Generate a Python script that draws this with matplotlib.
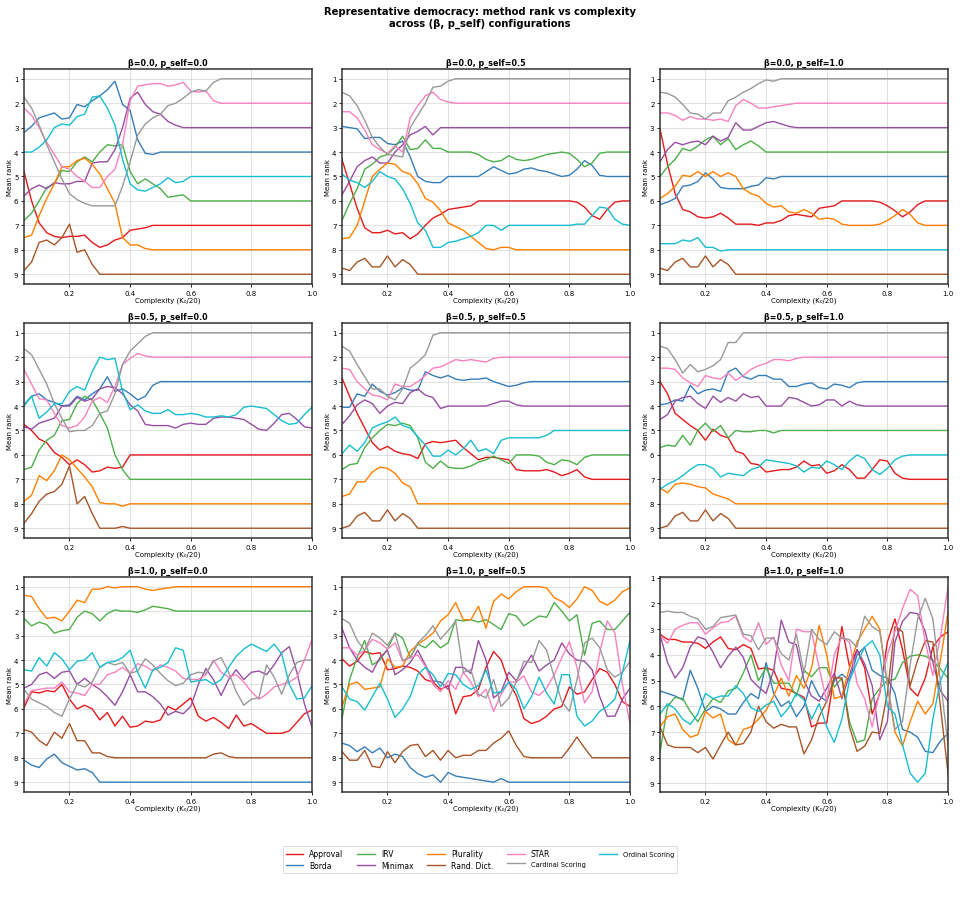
import matplotlib
matplotlib.use("Agg")
import matplotlib.pyplot as plt
import numpy as np

methods = ['Approval', 'Borda', 'IRV', 'Minimax', 'Plurality', 'Rand. Dict.',
           'STAR', 'Cardinal Scoring', 'Ordinal Scoring']
colors = ['#e41a1c', '#377eb8', '#4daf4a', '#984ea3', '#ff7f00', '#a65628',
          '#f781bf', '#999999', '#17becf']

# complexity grid, K0/20 from 0.05 to 1.0 in steps of 0.025 (39 points)
complexity = np.linspace(0.05, 1.0, 39)

betas = [0.0, 0.5, 1.0]
p_selfs = [0.0, 0.5, 1.0]

# mean rank per method, in the order of `methods`
rank_b00_p00 = [
    [4.8, 6.0, 6.9, 7.3, 7.45, 7.5, 7.45, 7.45, 7.4, 7.7, 7.9, 7.8, 7.6, 7.5, 7.2, 7.15, 7.1, 7.0, 7.0] + [7.0] * 20,
    [3.2, 2.95, 2.6, 2.5, 2.4, 2.65, 2.6, 2.05, 2.15, 1.9, 1.7, 1.45, 1.1, 2.05, 2.3, 3.5, 4.05, 4.1, 4.0] + [4.0] * 20,
    [6.8, 6.5, 6.0, 5.45, 5.3, 4.75, 4.8, 4.4, 4.2, 4.4, 4.0, 3.7, 3.75, 3.7, 4.8, 5.3, 5.1, 5.3, 5.5, 5.85, 5.8, 5.75, 6.0] + [6.0] * 16,
    [5.8, 5.5, 5.35, 5.5, 5.25, 5.3, 5.3, 5.2, 5.2, 4.45, 4.4, 4.4, 3.9, 3.0, 1.8, 1.55, 2.05, 2.35, 2.45, 2.75, 2.9, 3.0] + [3.0] * 17,
    [7.5, 7.4, 6.6, 5.9, 5.3, 4.6, 4.6, 4.35, 4.25, 4.5, 4.9, 5.5, 6.1, 7.5, 7.8, 7.8, 7.95, 8.0] + [8.0] * 21,
    [8.85, 8.5, 7.7, 7.6, 7.8, 7.5, 6.95, 8.1, 8.0, 8.6, 9.0] + [9.0] * 28,
    [2.2, 2.5, 3.0, 3.6, 4.1, 4.6, 4.7, 5.0, 5.2, 5.45, 5.45, 5.0, 4.7, 3.7, 1.9, 1.3, 1.25, 1.2, 1.2, 1.3, 1.25, 1.15, 1.5, 1.55, 1.5, 1.9, 2.0] + [2.0] * 12,
    [1.75, 2.2, 2.9, 3.7, 4.4, 5.1, 5.7, 5.95, 6.1, 6.2, 6.2, 6.2, 6.2, 5.4, 4.4, 3.3, 2.85, 2.6, 2.45, 2.1, 2.0, 1.8, 1.55, 1.45, 1.5, 1.15, 1.0] + [1.0] * 12,
    [4.0, 4.0, 3.8, 3.5, 3.0, 2.85, 2.9, 2.55, 2.45, 1.75, 1.7, 2.2, 2.9, 4.3, 5.3, 5.55, 5.6, 5.45, 5.3, 5.05, 5.25, 5.2, 5.0] + [5.0] * 16,
]

rank_b00_p05 = [
    [4.3, 5.3, 6.3, 7.1, 7.3, 7.3, 7.2, 7.35, 7.3, 7.55, 7.35, 7.0, 6.7, 6.55, 6.35, 6.3, 6.25, 6.2] + [6.0] * 13
    + [6.05, 6.25, 6.6, 6.75, 6.35, 6.05, 6.0, 6.0],
    [2.95, 3.0, 3.05, 3.45, 3.4, 3.4, 3.65, 3.7, 3.55, 4.2, 5.0, 5.2, 5.25, 5.25, 5.0, 5.0, 5.0, 5.0, 5.0, 4.8,
     4.6, 4.75, 4.9, 4.85, 4.7, 4.65, 4.75, 4.8, 4.9, 5.0, 4.95, 4.7, 4.35, 4.55, 4.95, 5.0, 5.0, 5.0, 5.0],
    [6.8, 6.1, 5.5, 4.7, 4.5, 4.2, 4.1, 3.8, 3.35, 3.9, 3.85, 3.5, 3.85, 3.85, 4.0, 4.0, 4.0, 4.0, 4.1, 4.3,
     4.4, 4.35, 4.15, 4.3, 4.35, 4.3, 4.2, 4.1, 4.05, 4.0, 4.05, 4.3, 4.6, 4.45, 4.05, 4.0, 4.0, 4.0, 4.0],
    [5.75, 5.2, 4.6, 4.35, 4.2, 4.45, 4.45, 4.0, 3.7, 3.3, 3.15, 2.95, 3.3, 3.0, 3.0] + [3.0] * 24,
    [7.55, 7.5, 7.0, 6.0, 5.0, 4.7, 4.45, 4.5, 4.8, 4.9, 5.3, 5.9, 6.05, 6.4, 6.9, 7.05, 7.2, 7.45, 7.7, 7.95,
     8.0, 7.9, 7.9, 8.0] + [8.0] * 15,
    [8.75, 8.85, 8.5, 8.35, 8.7, 8.7, 8.25, 8.7, 8.4, 8.6, 9.0] + [9.0] * 28,
    [2.35, 2.35, 2.6, 3.1, 3.7, 3.9, 4.05, 3.75, 4.0, 2.6, 2.1, 1.7, 1.55, 1.85, 1.95, 2.0] + [2.0] * 23,
    [1.55, 1.7, 2.1, 2.7, 3.4, 3.8, 4.1, 4.15, 4.2, 3.0, 2.5, 2.0, 1.35, 1.3, 1.1, 1.0] + [1.0] * 23,
    [4.9, 5.15, 5.25, 5.45, 5.2, 4.8, 5.0, 5.1, 5.5, 6.1, 6.9, 7.2, 7.9, 7.9, 7.7, 7.65, 7.55, 7.45, 7.3, 7.0,
     7.0, 7.2, 7.0, 7.0, 7.0, 7.0, 7.0, 7.0, 7.0, 7.0, 7.0, 6.95, 6.95, 6.6, 6.25, 6.3, 6.75, 6.95, 7.0],
]

rank_b00_p10 = [
    [3.05, 4.5, 5.7, 6.35, 6.45, 6.65, 6.7, 6.65, 6.5, 6.7, 6.95, 6.95, 6.95, 7.0, 6.9, 6.9, 6.8, 6.6, 6.55, 6.6,
     6.65, 6.3, 6.25, 6.2, 6.0, 6.0, 6.0, 6.0, 6.0, 6.05, 6.2, 6.4, 6.65, 6.45, 6.15, 6.0, 6.0, 6.0, 6.0],
    [6.15, 6.05, 5.9, 5.4, 5.35, 5.2, 4.85, 5.1, 5.45, 5.5, 5.5, 5.5, 5.4, 5.35, 5.05, 5.1, 5.0] + [5.0] * 22,
    [5.0, 4.6, 4.3, 3.85, 3.95, 3.75, 3.5, 3.35, 3.7, 3.45, 3.9, 3.7, 3.55, 3.75, 4.0] + [4.0] * 24,
    [4.4, 3.9, 3.6, 3.7, 3.6, 3.55, 3.7, 3.35, 3.55, 3.4, 2.8, 3.1, 3.1, 2.95, 2.8, 2.75, 2.85, 2.95, 3.0] + [3.0] * 20,
    [5.9, 5.7, 5.4, 4.95, 5.0, 4.8, 5.0, 4.8, 5.0, 4.85, 5.0, 5.5, 5.7, 5.8, 6.1, 6.25, 6.2, 6.45, 6.5, 6.35,
     6.5, 6.75, 6.7, 6.75, 6.95, 7.0, 7.0, 7.0, 7.0, 6.95, 6.8, 6.6, 6.35, 6.55, 6.9, 7.0, 7.0, 7.0, 7.0],
    [8.75, 8.85, 8.5, 8.35, 8.7, 8.7, 8.25, 8.7, 8.4, 8.6, 9.0] + [9.0] * 28,
    [2.4, 2.4, 2.5, 2.7, 2.55, 2.65, 2.65, 2.7, 2.65, 2.75, 2.1, 1.85, 2.0, 2.2, 2.2, 2.15, 2.1, 2.05, 2.0] + [2.0] * 20,
    [1.55, 1.6, 1.75, 2.05, 2.4, 2.45, 2.65, 2.4, 2.4, 1.9, 1.75, 1.55, 1.4, 1.2, 1.05, 1.1, 1.0] + [1.0] * 22,
    [7.75, 7.75, 7.75, 7.6, 7.65, 7.5, 7.9, 7.9, 8.05, 8.0] + [8.0] * 29,
]

rank_b05_p00 = [
    [4.75, 5.0, 5.35, 5.5, 5.9, 6.1, 6.4, 6.2, 6.4, 6.7, 6.65, 6.5, 6.55, 6.5, 6.0] + [6.0] * 24,
    [3.95, 3.6, 3.5, 3.75, 3.85, 4.0, 3.95, 3.6, 3.75, 3.5, 3.3, 2.8, 3.4, 3.3, 3.5, 3.75, 3.6, 3.15, 3.0] + [3.0] * 20,
    [6.6, 6.5, 5.8, 5.4, 5.2, 4.6, 4.55, 3.9, 3.6, 3.75, 4.3, 4.9, 6.0, 6.6, 7.0] + [7.0] * 24,
    [4.85, 4.95, 4.7, 4.6, 4.5, 4.0, 4.0, 3.65, 3.8, 3.7, 3.3, 3.2, 3.25, 3.5, 3.95, 4.2, 4.75, 4.8, 4.8, 4.8,
     4.9, 4.75, 4.7, 4.75, 4.75, 4.5, 4.45, 4.45, 4.5, 4.55, 4.75, 4.95, 5.0, 4.7, 4.35, 4.3, 4.55, 4.85, 4.9],
    [7.9, 7.65, 6.85, 7.05, 6.65, 6.0, 6.2, 6.55, 6.9, 7.3, 7.95, 8.0, 8.0, 8.1, 8.0] + [8.0] * 24,
    [8.8, 8.4, 7.9, 7.6, 7.5, 7.2, 6.45, 8.0, 7.7, 8.4, 9.0, 9.0, 9.0, 8.93, 9.0] + [9.0] * 24,
    [2.5, 3.1, 3.7, 3.75, 4.3, 4.8, 4.9, 4.8, 4.45, 3.8, 3.65, 3.85, 3.2, 2.3, 2.05, 1.85, 1.95, 2.0] + [2.0] * 21,
    [1.65, 1.9, 2.5, 3.1, 3.9, 4.5, 5.05, 5.0, 5.0, 4.8, 4.3, 4.2, 3.5, 2.3, 1.75, 1.45, 1.15, 1.0] + [1.0] * 21,
    [4.0, 3.6, 4.5, 4.25, 3.9, 3.9, 3.4, 3.2, 3.35, 2.6, 2.0, 2.1, 2.05, 3.4, 4.15, 3.95, 4.2, 4.3, 4.3, 4.15,
     4.35, 4.35, 4.3, 4.35, 4.45, 4.45, 4.4, 4.45, 4.35, 4.05, 4.0, 4.05, 4.1, 4.35, 4.6, 4.75, 4.7, 4.35, 4.05],
]

rank_b05_p05 = [
    [2.85, 3.6, 4.3, 4.9, 5.5, 5.8, 5.65, 5.85, 5.95, 6.0, 6.15, 5.55, 5.45, 5.5, 5.45, 5.4, 5.7, 5.95, 6.2, 6.1,
     6.1, 6.15, 6.2, 6.6, 6.65, 6.65, 6.65, 6.6, 6.7, 6.85, 6.75, 6.6, 6.9, 7.0] + [7.0] * 5,
    [4.05, 4.05, 3.5, 3.6, 3.1, 3.4, 3.55, 3.45, 3.25, 3.35, 3.35, 2.6, 2.75, 2.85, 2.75, 2.9, 2.95, 2.9, 2.9, 2.85,
     3.0, 3.1, 3.2, 3.15, 3.05, 3.0] + [3.0] * 13,
    [6.6, 6.4, 6.35, 5.7, 5.3, 5.0, 4.75, 4.8, 4.7, 4.8, 5.3, 6.3, 6.55, 6.25, 6.5, 6.55, 6.55, 6.45, 6.3, 6.2,
     6.05, 6.2, 6.35, 6.0, 6.0, 6.0, 6.05, 6.3, 6.4, 6.2, 6.25, 6.4, 6.1, 6.0] + [6.0] * 5,
    [4.75, 4.4, 3.95, 3.75, 3.9, 4.3, 4.0, 3.85, 3.9, 3.45, 3.3, 3.55, 3.65, 4.1, 4.0, 4.0, 4.0, 4.0, 4.0, 4.0,
     3.9, 3.8, 3.8, 3.95, 4.0] + [4.0] * 14,
    [7.7, 7.6, 7.1, 7.1, 6.7, 6.5, 6.55, 6.75, 7.15, 7.3, 8.0] + [8.0] * 28,
    [9.0, 8.9, 8.5, 8.35, 8.7, 8.7, 8.25, 8.7, 8.4, 8.6, 9.0] + [9.0] * 28,
    [2.45, 2.5, 3.0, 3.3, 3.55, 3.6, 3.75, 3.1, 3.2, 3.2, 3.0, 2.75, 2.45, 2.4, 2.25, 2.1, 2.15, 2.1, 2.15, 2.2,
     2.05, 2.0] + [2.0] * 17,
    [1.55, 1.75, 2.3, 2.8, 3.3, 3.3, 3.6, 3.75, 3.3, 2.45, 2.2, 1.9, 1.1, 1.0] + [1.0] * 25,
    [5.95, 5.6, 5.85, 5.5, 4.9, 4.75, 4.65, 4.45, 4.8, 4.9, 5.25, 5.6, 6.05, 6.05, 5.8, 6.0, 5.75, 5.4, 5.85, 5.75,
     5.95, 5.4, 5.3, 5.3, 5.3, 5.3, 5.3, 5.2, 5.0] + [5.0] * 10,
]

rank_b05_p10 = [
    [3.0, 3.5, 4.3, 4.55, 4.8, 5.0, 5.4, 4.95, 5.2, 5.3, 5.85, 5.95, 6.35, 6.4, 6.7, 6.65, 6.6, 6.6, 6.5, 6.25,
     6.45, 6.4, 6.75, 6.65, 6.4, 6.6, 6.95, 6.95, 6.6, 6.2, 6.25, 6.75, 6.95, 7.0] + [7.0] * 5,
    [3.95, 3.9, 3.75, 3.8, 3.15, 3.5, 3.35, 3.3, 3.4, 2.6, 2.45, 2.8, 2.9, 2.75, 2.75, 2.9, 2.9, 3.2, 3.2, 3.1,
     3.05, 3.25, 3.3, 3.1, 3.15, 3.25, 3.05, 3.0] + [3.0] * 11,
    [5.7, 5.6, 5.65, 5.2, 5.6, 5.0, 4.7, 5.05, 4.8, 5.3, 5.0, 5.05, 5.05, 5.0, 5.0, 5.1, 5.0] + [5.0] * 22,
    [4.55, 4.35, 3.8, 3.65, 3.6, 3.9, 4.1, 3.6, 3.85, 3.65, 3.8, 3.5, 3.65, 3.6, 4.0, 4.0, 4.0, 3.65, 3.7, 3.85,
     4.0, 3.95, 3.75, 3.75, 4.0, 3.8, 3.95, 4.0] + [4.0] * 11,
    [7.35, 7.55, 7.2, 7.15, 7.2, 7.3, 7.35, 7.6, 7.7, 7.8, 8.0] + [8.0] * 28,
    [9.0, 8.9, 8.5, 8.35, 8.7, 8.7, 8.25, 8.7, 8.4, 8.6, 9.0] + [9.0] * 28,
    [2.45, 2.45, 2.5, 2.85, 3.05, 3.2, 2.75, 2.85, 2.9, 2.65, 2.95, 2.75, 2.5, 2.35, 2.25, 2.1, 2.1, 2.15, 2.05, 2.0] + [2.0] * 19,
    [1.55, 1.65, 2.1, 2.65, 2.3, 2.6, 2.5, 2.35, 2.1, 1.4, 1.4, 1.0] + [1.0] * 27,
    [7.4, 7.2, 7.05, 6.85, 6.6, 6.4, 6.4, 6.55, 6.9, 6.75, 6.8, 6.85, 6.6, 6.5, 6.2, 6.25, 6.3, 6.35, 6.45, 6.7,
     6.5, 6.55, 6.25, 6.4, 6.6, 6.25, 6.0, 6.15, 6.6, 6.8, 6.55, 6.2, 6.05, 6.0] + [6.0] * 5,
]

rank_b10_p00 = [
    [5.95, 5.3, 5.35, 5.25, 5.3, 5.0, 5.6, 6.0, 5.85, 6.0, 6.45, 6.15, 6.7, 6.3, 6.75, 6.7, 6.5, 6.55, 6.45, 5.9,
     6.05, 5.8, 5.55, 6.3, 6.5, 6.35, 6.55, 6.8, 6.25, 6.7, 6.6, 6.8, 7.0, 7.0, 7.0, 6.9, 6.55, 6.2, 6.05],
    [8.1, 8.3, 8.4, 8.05, 7.85, 8.2, 8.35, 8.5, 8.45, 8.6, 9.0] + [9.0] * 28,
    [2.3, 2.6, 2.45, 2.55, 2.9, 2.8, 2.75, 2.25, 2.0, 2.1, 2.4, 2.1, 1.95, 2.0, 2.0, 2.05, 1.95, 1.8, 1.85, 1.9,
     2.0] + [2.0] * 18,
    [5.15, 5.0, 4.6, 4.5, 4.75, 4.5, 4.45, 5.0, 4.75, 5.0, 5.2, 5.5, 5.85, 5.3, 4.6, 5.3, 5.3, 5.5, 5.8, 6.25,
     6.1, 6.2, 5.9, 5.0, 4.35, 4.8, 5.45, 4.8, 4.4, 4.8, 4.5, 4.45, 4.6, 4.2, 3.7, 3.45, 4.5, 5.8, 6.75],
    [1.35, 1.4, 1.9, 2.3, 2.25, 2.4, 2.0, 1.55, 1.65, 1.1, 1.1, 1.0, 1.05, 1.0, 1.0, 1.0, 1.1, 1.15, 1.1, 1.05,
     1.0] + [1.0] * 18,
    [6.85, 6.95, 7.3, 7.5, 6.95, 7.2, 6.6, 7.3, 7.3, 7.8, 7.8, 7.95] + [8.0] * 13 + [7.85, 7.8, 7.95] + [8.0] * 11,
    [5.8, 5.25, 5.2, 5.15, 5.15, 4.9, 5.3, 5.35, 5.45, 5.0, 5.0, 4.6, 4.5, 4.3, 4.55, 4.15, 4.25, 4.45, 4.2, 4.3,
     4.45, 4.75, 4.8, 4.8, 4.6, 4.0, 4.5, 4.7, 4.6, 4.9, 5.3, 5.6, 5.4, 5.1, 5.0, 4.9, 4.7, 4.0, 3.15],
    [5.2, 5.6, 5.75, 5.9, 6.15, 6.3, 5.6, 5.0, 5.1, 4.9, 4.3, 4.1, 4.2, 4.1, 4.55, 4.45, 3.95, 4.2, 4.55, 4.85,
     5.05, 4.95, 4.6, 4.5, 4.55, 4.05, 3.9, 4.5, 5.3, 5.85, 5.6, 5.55, 4.2, 4.7, 5.4, 4.6, 4.1, 4.0, 4.0],
    [4.4, 4.45, 3.9, 4.25, 3.7, 3.95, 4.4, 4.05, 4.0, 3.7, 4.3, 4.1, 4.05, 3.9, 3.6, 4.5, 5.15, 4.4, 4.3, 4.1,
     3.5, 3.6, 4.9, 4.85, 4.8, 5.0, 4.8, 4.3, 3.85, 3.55, 3.35, 3.5, 3.65, 3.35, 3.75, 5.0, 5.6, 5.55, 5.05],
]

rank_b10_p05 = [
    [3.95, 4.25, 4.05, 3.65, 3.75, 3.7, 4.4, 4.35, 4.25, 4.3, 4.45, 4.8, 4.9, 5.2, 5.05, 6.2, 5.5, 5.45, 5.2, 4.3,
     3.65, 4.0, 4.9, 5.45, 6.4, 6.6, 6.5, 6.3, 6.0, 5.9, 5.1, 5.4, 5.3, 4.8, 4.35, 4.5, 5.0, 5.7, 5.9],
    [7.4, 7.5, 7.75, 7.55, 7.8, 7.6, 8.0, 7.85, 7.95, 8.4, 8.65, 8.8, 8.7, 9.0, 8.6, 8.75, 8.8, 8.85, 8.9, 8.95,
     9.0, 8.85, 9.0] + [9.0] * 16,
    [6.4, 4.8, 3.9, 3.2, 4.2, 4.0, 3.55, 2.9, 3.1, 3.9, 3.35, 3.5, 3.2, 3.5, 3.3, 2.35, 2.4, 2.35, 2.45, 2.35,
     2.55, 2.75, 2.1, 2.2, 2.6, 2.4, 2.2, 2.25, 1.65, 2.0, 2.4, 2.15, 3.8, 2.5, 2.4, 2.75, 2.75, 2.4, 2.05],
    [2.7, 3.5, 4.0, 4.3, 4.5, 3.9, 3.6, 4.6, 4.4, 4.1, 3.6, 4.2, 4.85, 4.9, 5.2, 4.3, 4.3, 4.55, 3.2, 4.0,
     5.55, 5.3, 4.5, 4.85, 4.3, 3.8, 4.45, 4.2, 4.0, 3.3, 3.75, 4.0, 4.05, 4.4, 5.5, 6.3, 6.3, 5.6, 5.15],
    [5.9, 5.0, 4.9, 5.2, 5.15, 5.1, 3.95, 4.3, 4.25, 3.65, 3.35, 3.15, 2.9, 2.4, 2.15, 1.65, 2.35, 2.35, 1.8, 2.7,
     1.6, 1.3, 1.5, 1.2, 1.0, 1.0, 1.0, 1.05, 1.45, 1.6, 1.85, 1.5, 1.0, 1.15, 1.6, 1.75, 1.55, 1.2, 1.05],
    [7.75, 8.1, 8.1, 7.7, 8.35, 8.4, 7.75, 8.2, 7.75, 7.5, 7.45, 7.95, 7.7, 8.1, 7.7, 8.0, 7.9, 7.9, 7.7, 7.7,
     7.4, 7.2, 6.9, 7.5, 7.95, 8.0, 8.0, 8.0, 8.0, 8.0, 7.6, 7.15, 7.6, 8.0] + [8.0] * 5,
    [3.5, 3.5, 3.8, 3.6, 3.15, 3.3, 3.55, 3.3, 4.05, 3.9, 3.8, 4.25, 5.0, 5.3, 4.85, 5.2, 4.5, 4.9, 5.5, 5.2,
     6.1, 5.4, 4.9, 4.9, 4.65, 5.3, 5.45, 5.15, 4.6, 3.9, 3.25, 4.3, 5.75, 5.3, 3.7, 2.4, 2.9, 5.0, 6.6],
    [2.3, 2.5, 3.2, 3.6, 2.9, 3.1, 3.4, 2.9, 4.0, 3.9, 3.3, 3.0, 2.6, 3.15, 2.8, 2.4, 4.5, 4.4, 5.4, 5.55,
     4.8, 5.9, 5.55, 4.9, 4.05, 4.1, 3.2, 3.6, 4.7, 5.7, 6.1, 4.8, 3.3, 3.1, 3.5, 4.4, 4.7, 4.5, 4.05],
    [5.1, 5.6, 5.7, 6.05, 5.5, 4.95, 5.6, 6.35, 6.0, 5.5, 4.6, 4.3, 4.6, 5.1, 4.55, 4.6, 5.0, 5.2, 5.05, 4.4,
     5.35, 5.3, 4.9, 5.2, 6.0, 5.5, 4.7, 5.35, 5.8, 4.6, 4.6, 6.3, 6.7, 6.5, 6.1, 5.9, 5.6, 4.5, 3.2],
]

rank_b10_p10 = [
    [3.2, 3.4, 3.4, 3.5, 3.5, 3.55, 3.75, 3.5, 3.3, 3.75, 3.8, 3.6, 3.75, 4.55, 4.5, 4.6, 5.3, 5.35, 5.5, 5.65,
     6.8, 6.65, 6.65, 4.8, 2.9, 4.45, 3.8, 4.5, 6.3, 5.5, 3.5, 2.6, 3.8, 5.3, 5.6, 4.9, 3.7, 3.3, 3.1],
    [5.4, 5.5, 5.6, 5.75, 4.6, 5.3, 6.2, 6.0, 6.1, 6.3, 6.3, 5.85, 5.5, 5.7, 4.3, 5.5, 6.0, 5.8, 6.4, 6.0,
     5.0, 5.6, 5.8, 5.0, 4.75, 5.0, 4.0, 3.7, 4.6, 4.8, 4.9, 5.5, 6.9, 7.0, 7.2, 7.75, 7.8, 7.35, 7.05],
    [7.8, 6.0, 5.65, 5.7, 6.2, 6.6, 6.1, 5.7, 5.85, 5.4, 5.3, 4.7, 4.0, 5.0, 4.5, 5.1, 5.1, 5.1, 5.6, 4.6,
     4.85, 4.5, 4.5, 5.25, 4.9, 6.6, 7.4, 7.3, 5.7, 5.3, 5.0, 4.95, 4.3, 4.05, 4.0, 4.05, 4.2, 4.55, 4.9],
    [3.2, 4.3, 4.9, 4.5, 3.7, 3.3, 3.4, 3.9, 4.5, 4.05, 3.7, 4.1, 4.95, 5.25, 5.5, 4.6, 2.65, 3.5, 3.6, 5.0,
     5.6, 5.8, 5.3, 4.7, 5.7, 4.8, 3.8, 4.35, 5.2, 7.3, 6.6, 3.5, 2.7, 2.35, 2.4, 3.1, 4.3, 5.4, 5.8],
    [6.8, 6.4, 6.3, 6.9, 7.2, 7.1, 6.2, 6.45, 6.3, 7.3, 7.5, 6.9, 6.8, 6.5, 6.15, 5.6, 4.9, 5.6, 4.8, 5.3,
     4.5, 2.85, 4.0, 5.7, 5.6, 4.5, 3.5, 3.0, 2.5, 3.0, 5.2, 7.0, 7.55, 6.6, 5.8, 6.3, 5.9, 4.2, 2.35],
    [6.8, 7.5, 7.6, 7.6, 7.6, 7.8, 7.6, 8.05, 7.5, 7.0, 7.5, 7.45, 7.0, 6.0, 6.6, 6.85, 6.7, 6.8, 6.8, 7.85,
     7.3, 6.4, 5.8, 4.9, 4.9, 6.8, 7.75, 7.55, 7.0, 7.05, 5.5, 2.9, 3.1, 5.2, 4.2, 3.45, 3.5, 6.0, 8.6],
    [3.25, 3.55, 3.0, 2.85, 2.75, 2.75, 3.2, 2.95, 2.75, 2.7, 2.5, 3.3, 3.5, 2.75, 3.6, 3.3, 4.4, 5.0, 3.0, 3.1,
     3.1, 4.5, 5.8, 4.0, 3.3, 3.5, 5.1, 5.7, 6.8, 5.4, 4.0, 3.1, 2.2, 1.45, 1.7, 3.5, 4.8, 3.3, 1.35],
    [2.35, 2.3, 2.35, 2.35, 2.5, 2.6, 3.0, 2.9, 2.55, 2.5, 2.45, 3.2, 3.25, 3.8, 3.35, 3.35, 3.95, 4.2, 3.2, 4.7,
     3.0, 3.4, 3.6, 3.1, 3.35, 3.4, 3.7, 2.5, 2.9, 3.1, 5.1, 6.9, 6.6, 4.4, 2.6, 1.8, 2.6, 5.0, 7.5],
    [6.3, 5.9, 6.1, 6.5, 6.7, 6.3, 5.5, 5.7, 5.6, 5.6, 5.2, 5.5, 6.05, 6.2, 5.95, 5.8, 6.4, 6.05, 5.5, 5.75,
     6.5, 5.9, 6.8, 7.4, 6.5, 5.0, 4.3, 3.7, 3.45, 4.0, 6.0, 6.3, 7.5, 8.6, 8.95, 8.6, 6.5, 5.0, 4.3],
]

panels = [
    [rank_b00_p00, rank_b00_p05, rank_b00_p10],
    [rank_b05_p00, rank_b05_p05, rank_b05_p10],
    [rank_b10_p00, rank_b10_p05, rank_b10_p10],
]

fig, axes = plt.subplots(3, 3, figsize=(9.6, 9.04), dpi=100)
fig.subplots_adjust(left=0.025, right=0.9875, bottom=0.1228, top=0.9226,
                    wspace=0.104, hspace=0.181)

for r, beta in enumerate(betas):
    for c, ps in enumerate(p_selfs):
        ax = axes[r][c]
        data = panels[r][c]
        for k, name in enumerate(methods):
            ax.plot(complexity, data[k], color=colors[k], lw=1.0, label=name)
        ax.set_xlim(0.05, 1.0)
        ax.invert_yaxis()
        ax.set_yticks(range(1, 10))
        ax.set_xticks([0.2, 0.4, 0.6, 0.8, 1.0])
        ax.tick_params(labelsize=5, length=2.5, width=0.6, pad=1.5)
        ax.grid(True, color='#cccccc', lw=0.7, alpha=0.6)
        for s in ax.spines.values():
            s.set_color('#333333')
            s.set_linewidth(1.1)
        ax.set_title(f"β={beta}, p_self={ps}", fontsize=5.8, fontweight='bold', pad=3)
        ax.set_xlabel("Complexity (K₀/20)", fontsize=5, labelpad=1)
        ax.set_ylabel("Mean rank", fontsize=5, labelpad=1)

fig.suptitle("Representative democracy: method rank vs complexity\nacross (β, p_self) configurations",
             fontsize=7.2, fontweight='bold', y=0.992)

handles, labels = axes[0][0].get_legend_handles_labels()
leg = fig.legend(handles, labels, loc='upper center', bbox_to_anchor=(0.5, 0.067),
                 ncol=5, fontsize=5.5, frameon=True, columnspacing=1.8,
                 handlelength=2.3, borderpad=0.4, labelspacing=0.3)
leg.get_frame().set_linewidth(0.6)
for t in leg.get_texts()[7:]:
    t.set_fontsize(4.8)

fig.savefig("out.png", dpi=100)
